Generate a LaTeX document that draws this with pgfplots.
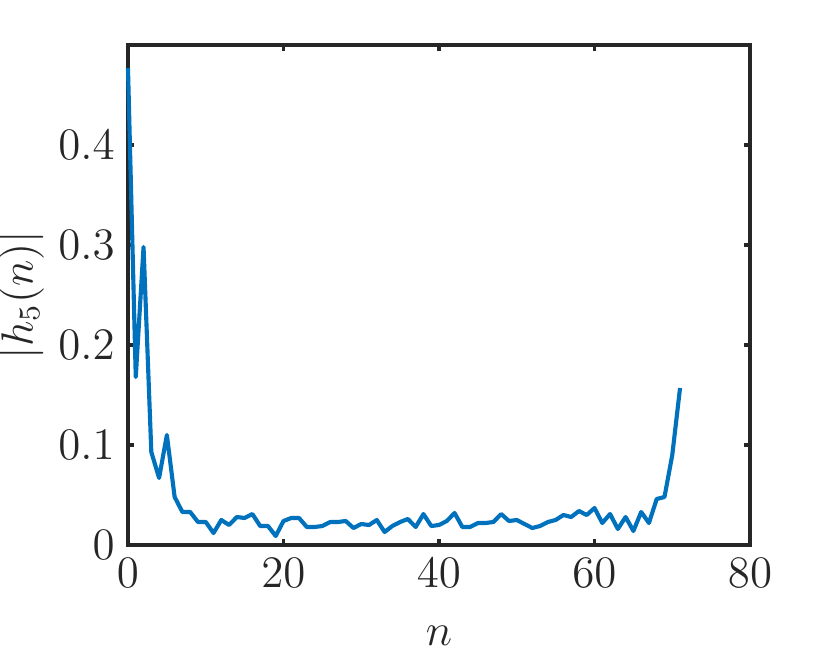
\documentclass[border=0pt]{standalone}
\usepackage{pgfplots}
\pgfplotsset{compat=1.18}
\definecolor{mblue}{rgb}{0,0.447,0.741}
\definecolor{axgray}{rgb}{0.15,0.15,0.15}
\begin{document}
\begin{tikzpicture}
\path[use as bounding box] (-34.13pt,-30.93pt) rectangle (187.2pt,145.33pt);
\begin{axis}[
  at={(0,0)}, anchor=south west,
  scale only axis,
  width=165.87pt, height=133.33pt,
  xmin=0, xmax=80, ymin=0, ymax=0.5,
  xtick={0,20,40,60,80},
  ytick={0,0.1,0.2,0.3,0.4},
  yticklabel style={/pgf/number format/fixed, /pgf/number format/precision=1},
  tick align=inside,
  major tick length=1.5pt,
  axis line style={axgray, line width=0.9pt},
  every tick/.style={axgray, line width=0.9pt},
  tick label style={font=\fontsize{12}{14}\selectfont, text=axgray},
  label style={font=\fontsize{12}{14}\selectfont, text=axgray},
  xlabel={$n$},
  ylabel={$|h_5(n)|$},
  xlabel style={yshift=-3.5pt},
  ylabel style={yshift=-3pt},
  clip=false,
]
\addplot[mblue, line width=1.1pt, line join=round] coordinates {
(0,0.477) (1,0.168) (2,0.298) (3,0.093) (4,0.067) (5,0.110) (6,0.048) (7,0.033)
(8,0.033) (9,0.023) (10,0.023) (11,0.012) (12,0.025) (13,0.020) (14,0.028) (15,0.027)
(16,0.031) (17,0.019) (18,0.019) (19,0.009) (20,0.024) (21,0.027) (22,0.027) (23,0.018)
(24,0.018) (25,0.019) (26,0.023) (27,0.023) (28,0.024) (29,0.017) (30,0.021) (31,0.020)
(32,0.025) (33,0.013) (34,0.019) (35,0.023) (36,0.026) (37,0.018) (38,0.031) (39,0.019)
(40,0.020) (41,0.024) (42,0.032) (43,0.018) (44,0.018) (45,0.022) (46,0.022) (47,0.023)
(48,0.031) (49,0.024) (50,0.025) (51,0.021) (52,0.017) (53,0.019) (54,0.023) (55,0.025)
(56,0.030) (57,0.028) (58,0.034) (59,0.030) (60,0.037) (61,0.022) (62,0.031) (63,0.016)
(64,0.028) (65,0.014) (66,0.033) (67,0.022) (68,0.046) (69,0.048) (70,0.090) (71,0.157)
};
\end{axis}
\end{tikzpicture}
\end{document}
